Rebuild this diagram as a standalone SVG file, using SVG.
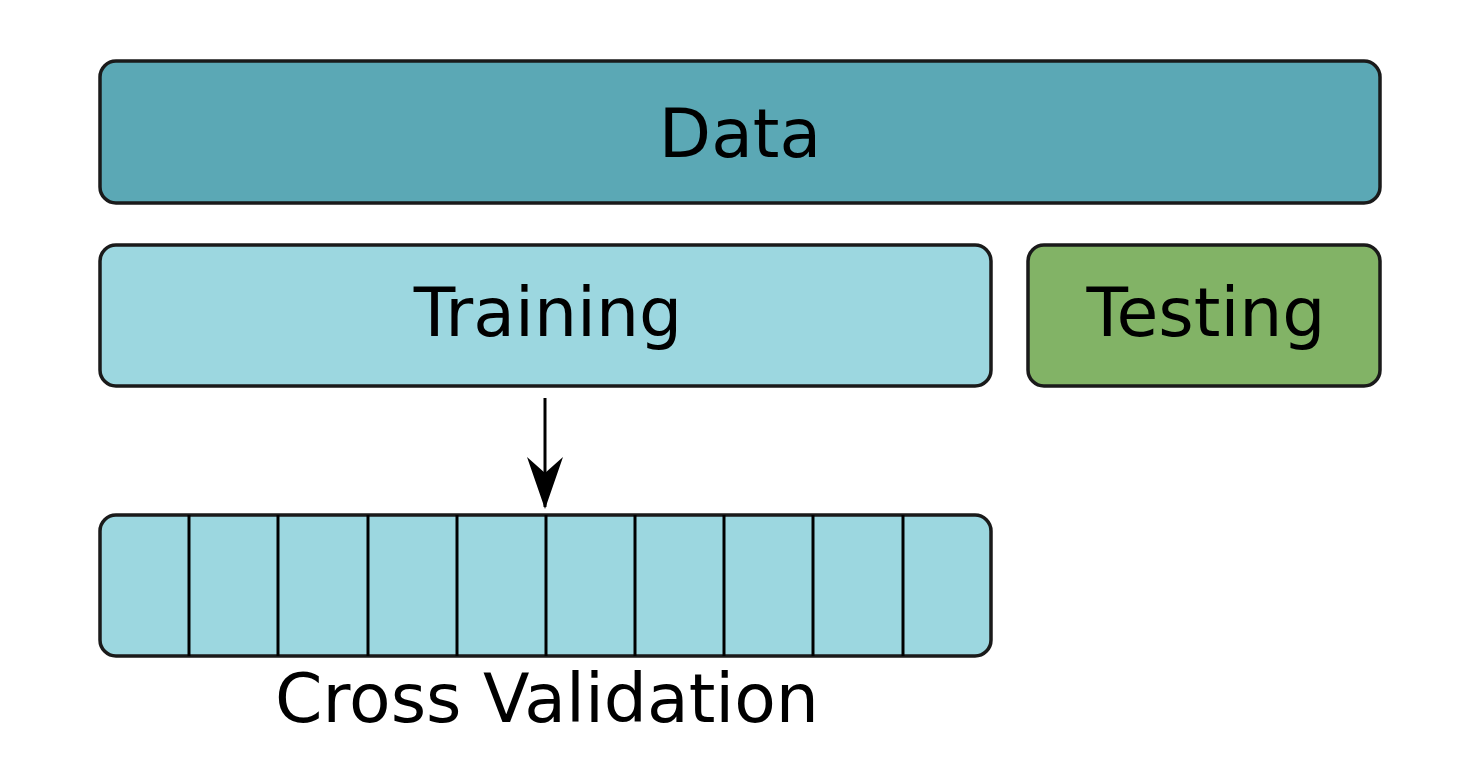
<svg xmlns="http://www.w3.org/2000/svg" width="1480" height="760" viewBox="0 0 1480 760">
  <defs>
    <marker id="arrowhead" viewBox="0 0 52 36" refX="50" refY="18" markerWidth="52" markerHeight="36" markerUnits="userSpaceOnUse" orient="auto">
      <path d="M0,0 L16,18 L0,36 L52,18 Z" fill="#000"/>
    </marker>
    <style>
      .box { stroke: #1a1a1a; stroke-width: 3.5; }
      .data { fill: #5ba8b5; }
      .train { fill: #9cd7e0; }
      .test { fill: #82b366; }
      .label { font-family: "DejaVu Sans", sans-serif; font-size: 68px; fill: #000; text-anchor: middle; }
      .fold { stroke: #000; stroke-width: 3; }
    </style>
  </defs>
  <rect width="1480" height="760" fill="#fff"/>

  <g id="data">
    <rect class="box data" x="100" y="61" width="1280" height="142" rx="16"/>
    <text class="label" x="740" y="157">Data</text>
  </g>

  <g id="training">
    <rect class="box train" x="100" y="245" width="891" height="141" rx="16"/>
    <text class="label" x="548" y="336">Training</text>
  </g>

  <g id="testing">
    <rect class="box test" x="1028" y="245" width="352" height="141" rx="16"/>
    <text class="label" x="1206" y="336">Testing</text>
  </g>

  <g id="cross-validation">
    <rect class="box train" x="100" y="515" width="891" height="141" rx="16"/>
    <g class="fold">
      <line x1="189" y1="515" x2="189" y2="656"/>
      <line x1="278" y1="515" x2="278" y2="656"/>
      <line x1="368" y1="515" x2="368" y2="656"/>
      <line x1="457" y1="515" x2="457" y2="656"/>
      <line x1="546" y1="515" x2="546" y2="656"/>
      <line x1="635" y1="515" x2="635" y2="656"/>
      <line x1="724" y1="515" x2="724" y2="656"/>
      <line x1="813" y1="515" x2="813" y2="656"/>
      <line x1="903" y1="515" x2="903" y2="656"/>
    </g>
    <text class="label" x="547" y="722">Cross Validation</text>
  </g>

  <g id="connectors">
    <line x1="545" y1="398" x2="545" y2="507" stroke="#000" stroke-width="3" marker-end="url(#arrowhead)"/>
  </g>
</svg>
